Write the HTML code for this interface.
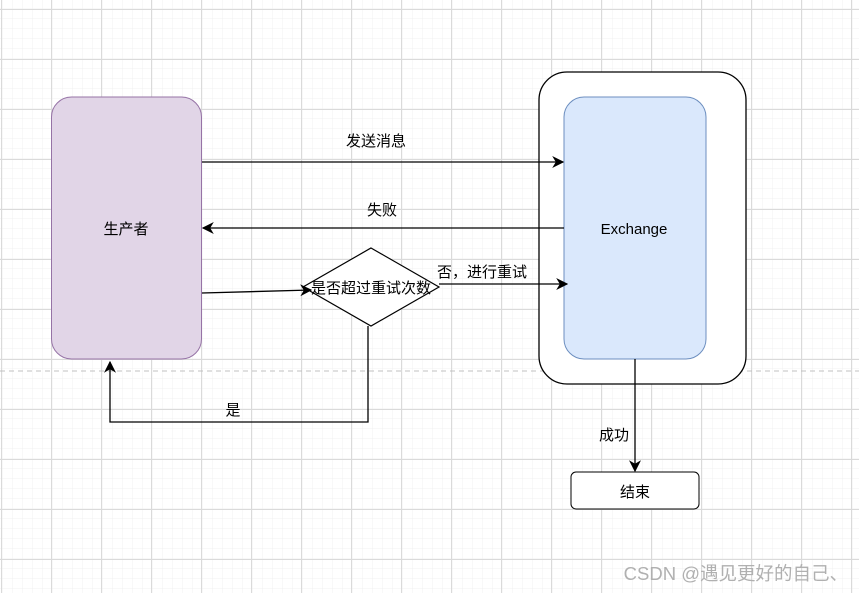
<!DOCTYPE html>
<html><head><meta charset="utf-8"><style>
html,body{margin:0;padding:0;background:#fff}
svg{display:block}
text{font-family:"Liberation Sans","Noto Sans CJK SC",sans-serif;font-size:15px;fill:#000}
</style></head><body>
<svg width="859" height="593" viewBox="0 0 859 593" xmlns="http://www.w3.org/2000/svg">
<defs>
<pattern id="minor" width="10" height="10" patternUnits="userSpaceOnUse" x="1" y="9">
<path d="M0 0H10M0 0V10" stroke="#f0f0f0" stroke-width="1" fill="none"/>
</pattern>
<pattern id="major" width="50" height="50" patternUnits="userSpaceOnUse" x="1" y="9">
<rect width="50" height="50" fill="url(#minor)"/>
<path d="M0 0.5H50M0.5 0V50" stroke="#dadada" stroke-width="1" fill="none"/>
</pattern>
<marker id="ar" viewBox="0 0 10 10" refX="9" refY="5" markerWidth="12" markerHeight="12" markerUnits="userSpaceOnUse" orient="auto">
<path d="M0 0L10 5L0 10L3 5Z" fill="#000"/>
</marker>
</defs>
<rect width="859" height="593" fill="url(#major)"/>
<line x1="0" y1="371" x2="859" y2="371" stroke="#c0c0c0" stroke-dasharray="5,4"/>
<rect x="51.5" y="97" width="150" height="262" rx="20" fill="#e1d5e7" stroke="#9673a6"/>
<rect x="539" y="72" width="207" height="312" rx="28" fill="#fff" stroke="#000" stroke-width="1.3"/>
<rect x="564" y="97" width="142" height="262" rx="20" fill="#dae8fc" stroke="#6c8ebf"/>
<rect x="571" y="472" width="128" height="37" rx="5" fill="#fff" stroke="#000"/>
<polygon points="371,248 439,287 371,326 303,287" fill="#fff" stroke="#000" stroke-width="1.2"/>
<g stroke="#000" stroke-width="1.3" fill="none">
<line x1="202" y1="162" x2="563" y2="162" marker-end="url(#ar)"/>
<line x1="564" y1="228" x2="203" y2="228" marker-end="url(#ar)"/>
<line x1="202" y1="293" x2="311" y2="290" marker-end="url(#ar)"/>
<line x1="439" y1="284" x2="567" y2="284" marker-end="url(#ar)"/>
<polyline points="368,326 368,422 110,422 110,362" marker-end="url(#ar)"/>
<line x1="635" y1="359" x2="635" y2="471" marker-end="url(#ar)"/>
</g>
<text x="126" y="234" text-anchor="middle">生产者</text>
<text x="634" y="234" text-anchor="middle">Exchange</text>
<text x="635" y="497" text-anchor="middle">结束</text>
<text x="376" y="146" text-anchor="middle">发送消息</text>
<text x="382" y="215" text-anchor="middle">失败</text>
<text x="371" y="293" text-anchor="middle">是否超过重试次数</text>
<text x="482" y="277" text-anchor="middle">否，进行重试</text>
<text x="233" y="415" text-anchor="middle">是</text>
<text x="614" y="440" text-anchor="middle">成功</text>
<text x="848" y="580" text-anchor="end" style="font-size:18.5px;fill:#b0b0b0">CSDN @遇见更好的自己、</text>
</svg>
</body></html>
